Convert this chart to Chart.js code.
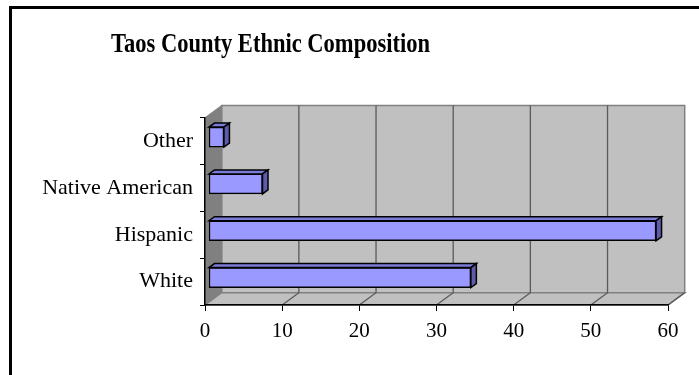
<!DOCTYPE html>
<html>
<head>
<meta charset="utf-8">
<script src="https://cdn.jsdelivr.net/npm/chart.js@4/dist/chart.umd.min.js"></script>
<style>
  html, body { margin: 0; padding: 0; background: #fff; overflow: hidden; }
  #frame { position: absolute; left: 9px; top: 6px; width: 760px; height: 420px; border: 3px solid #000; }
  #chart { position: absolute; left: 0; top: 0; }
</style>
</head>
<body>
<div id="frame"></div>
<canvas id="chart" width="699" height="375"></canvas>
<script>
// ── data ─────────────────────────────────────────────
const chartTitle = "Taos County Ethnic Composition";
const categories = ["Other", "Native American", "Hispanic", "White"];
const percentages = [2, 7, 58, 34];
const axisMin = 0;
const axisMax = 60;
const axisStep = 10;

// ── 3D look (Excel style) ───────────────────────────
const wallDepth = { x: 16.7, y: -12.3 };   // front axis -> back wall
const barShift = { x: 3.5, y: -4 };        // front face of bars sits a bit back
const barDepth = { x: 5.5, y: -4 };        // bar top / side faces
const serif = "'Liberation Serif', 'Times New Roman', serif";

function poly(ctx, pts, fill, stroke, lw) {
  ctx.beginPath();
  ctx.moveTo(pts[0][0], pts[0][1]);
  for (let i = 1; i < pts.length; i++) ctx.lineTo(pts[i][0], pts[i][1]);
  ctx.closePath();
  if (fill) { ctx.fillStyle = fill; ctx.fill(); }
  if (stroke) { ctx.strokeStyle = stroke; ctx.lineWidth = lw || 1; ctx.stroke(); }
}

const walls3d = {
  id: "walls3d",
  beforeDraw(chart) {
    const ctx = chart.ctx;
    const xs = chart.scales.x, a = chart.chartArea;
    const dx = wallDepth.x, dy = wallDepth.y;
    ctx.save();
    // title – tall, narrow Times look of the original
    ctx.fillStyle = "#000";
    ctx.font = "bold 28px " + serif;
    ctx.textAlign = "center";
    ctx.textBaseline = "alphabetic";
    const w = ctx.measureText(chartTitle).width;
    ctx.translate(270.5, 52);
    ctx.scale(319 / w, 1);
    ctx.fillText(chartTitle, 0, 0);
    ctx.restore();

    ctx.save();
    const x0 = xs.getPixelForValue(axisMin), x1 = xs.getPixelForValue(axisMax);
    // back wall
    poly(ctx, [[x0 + dx, a.top + dy], [x1 + dx, a.top + dy], [x1 + dx, a.bottom + dy], [x0 + dx, a.bottom + dy]], "#c0c0c0", "#808080", 1.5);
    // left side wall
    poly(ctx, [[x0, a.top], [x0 + dx, a.top + dy], [x0 + dx, a.bottom + dy], [x0, a.bottom]], "#808080", "#808080", 1);
    // floor
    poly(ctx, [[x0, a.bottom], [x1, a.bottom], [x1 + dx, a.bottom + dy], [x0 + dx, a.bottom + dy]], "#c0c0c0", "#808080", 1.5);
    // gridlines: diagonal on floor, vertical on back wall
    ctx.strokeStyle = "#5a5a5a";
    ctx.lineWidth = 1.3;
    for (let v = axisMin + axisStep; v <= axisMax; v += axisStep) {
      const px = xs.getPixelForValue(v);
      ctx.beginPath();
      ctx.moveTo(px, a.bottom);
      ctx.lineTo(px + dx, a.bottom + dy);
      if (v < axisMax) ctx.lineTo(px + dx, a.top + dy);
      ctx.stroke();
    }
    ctx.restore();
  },
  beforeDatasetsDraw(chart) {
    chart.ctx.save();
    chart.ctx.translate(barShift.x, barShift.y);
  },
  afterDatasetsDraw(chart) {
    const ctx = chart.ctx;
    chart.getDatasetMeta(0).data.forEach((bar) => {
      const p = bar.getProps(["x", "y", "base", "height"], true);
      const top = p.y - p.height / 2, bot = p.y + p.height / 2;
      const dx = barDepth.x, dy = barDepth.y;
      poly(ctx, [[p.base, top], [p.x, top], [p.x + dx, top + dy], [p.base + dx, top + dy]], "#7b7bd8", "#000", 1.5);
      poly(ctx, [[p.x, top], [p.x + dx, top + dy], [p.x + dx, bot + dy], [p.x, bot]], "#5c5cab", "#000", 1.5);
    });
    ctx.restore();
  },
};

new Chart(document.getElementById("chart"), {
  type: "bar",
  data: {
    labels: categories,
    datasets: [
      {
        data: percentages,
        backgroundColor: "#9999ff",
        borderColor: "#000",
        borderWidth: 1.5,
        borderSkipped: false,
        barThickness: 20,
      },
    ],
  },
  options: {
    indexAxis: "y",
    responsive: false,
    animation: false,
    devicePixelRatio: 1,
    layout: { padding: { left: 0, right: 31, top: 117.7, bottom: 25 } },
    plugins: { legend: { display: false }, tooltip: { enabled: false }, title: { display: false } },
    scales: {
      x: {
        min: axisMin,
        max: axisMax,
        afterFit: (s) => { s.height = 45; },
        ticks: { stepSize: axisStep, color: "#000", font: { family: serif, size: 21 }, padding: 8, maxRotation: 0 },
        grid: { drawOnChartArea: false, drawTicks: true, tickLength: 6, color: "#000", lineWidth: 1 },
        border: { color: "#000", width: 1.5 },
      },
      y: {
        afterFit: (s) => { s.width = 205; },
        ticks: { color: "#000", font: { family: serif, size: 22 }, padding: 7 },
        grid: { offset: true, drawOnChartArea: false, drawTicks: true, tickLength: 5, color: "#000", lineWidth: 1 },
        border: { color: "#000", width: 1.5 },
      },
    },
  },
  plugins: [walls3d],
});
</script>
</body>
</html>
